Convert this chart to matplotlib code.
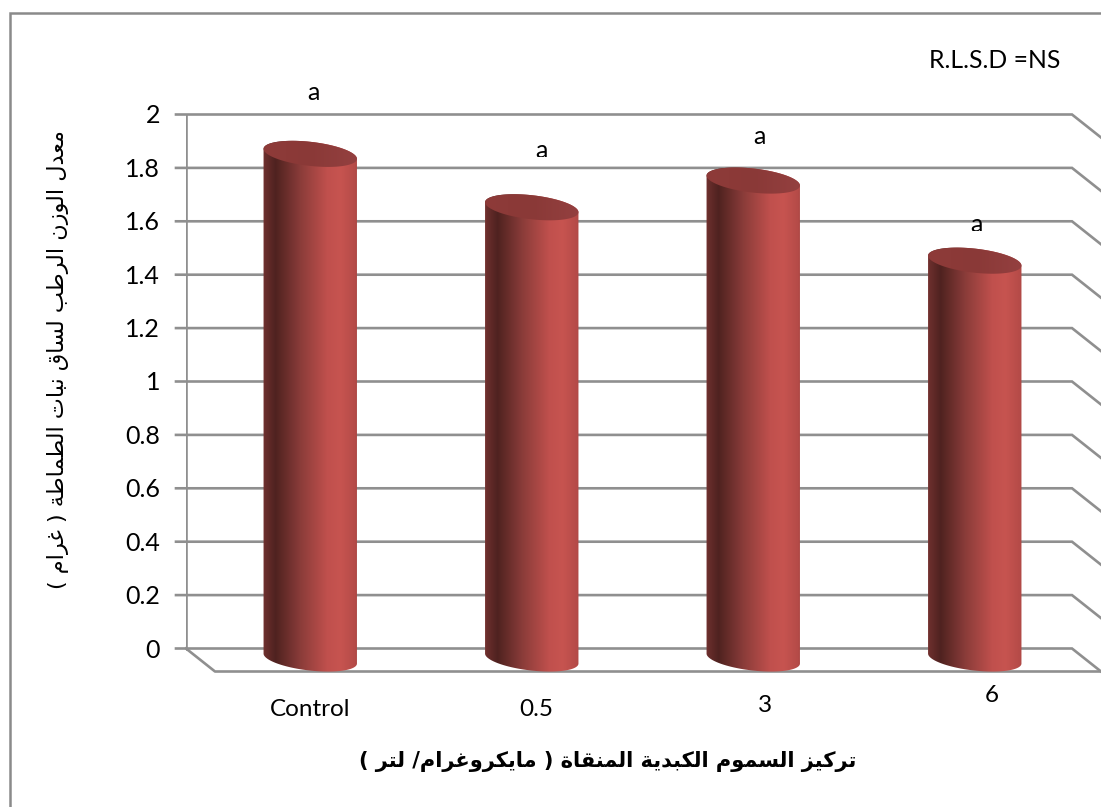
"""Tomato stem fresh weight chart, drawn as a 3D style cylinder plot."""

import matplotlib
matplotlib.use("Agg")
import matplotlib.pyplot as plt
import numpy as np
from matplotlib.colors import LinearSegmentedColormap
from matplotlib.lines import Line2D
from matplotlib.patches import Polygon, Rectangle

CATEGORIES = ["Control", "0.5", "3", "6"]
VALUES = [1.89, 1.69, 1.79, 1.49]
Y_TICKS = [0, 0.2, 0.4, 0.6, 0.8, 1, 1.2, 1.4, 1.6, 1.8, 2]
Y_TICK_LABELS = ["0", "0.2", "0.4", "0.6", "0.8", "1", "1.2", "1.4", "1.6", "1.8", "2"]
GROUP_LETTERS = ["a", "a", "a", "a"]
Y_TITLE = "معدل الوزن الرطب لساق نبات الطماطة ( غرام )"
X_TITLE = "تركيز السموم الكبدية المنقاة ( مايكروغرام/ لتر )"
NOTE = "R.L.S.D =NS"

W, H = 1101, 807
GRID = "#8f8f8f"

# isolated, final, initial, medial (two forms only = no join to the next letter)
FORMS = {
    "ا": (0xFE8D, 0xFE8E), "ب": (0xFE8F, 0xFE90, 0xFE91, 0xFE92),
    "ة": (0xFE93, 0xFE94), "ت": (0xFE95, 0xFE96, 0xFE97, 0xFE98),
    "د": (0xFEA9, 0xFEAA), "ر": (0xFEAD, 0xFEAE), "ز": (0xFEAF, 0xFEB0),
    "س": (0xFEB1, 0xFEB2, 0xFEB3, 0xFEB4), "ط": (0xFEC1, 0xFEC2, 0xFEC3, 0xFEC4),
    "ع": (0xFEC9, 0xFECA, 0xFECB, 0xFECC), "غ": (0xFECD, 0xFECE, 0xFECF, 0xFED0),
    "ق": (0xFED5, 0xFED6, 0xFED7, 0xFED8), "ك": (0xFED9, 0xFEDA, 0xFEDB, 0xFEDC),
    "ل": (0xFEDD, 0xFEDE, 0xFEDF, 0xFEE0), "م": (0xFEE1, 0xFEE2, 0xFEE3, 0xFEE4),
    "ن": (0xFEE5, 0xFEE6, 0xFEE7, 0xFEE8), "و": (0xFEED, 0xFEEE),
    "ي": (0xFEF1, 0xFEF2, 0xFEF3, 0xFEF4),
}
MIRROR = {"(": ")", ")": "("}


def shape_arabic(text):
    """matplotlib has no shaping or bidi, so join the letters and reverse them."""
    out = []
    for i, ch in enumerate(text):
        forms = FORMS.get(ch)
        if forms is None:
            out.append(MIRROR.get(ch, ch))
            continue
        prev = FORMS.get(text[i - 1]) if i else None
        nxt = FORMS.get(text[i + 1]) if i + 1 < len(text) else None
        join_prev = prev is not None and len(prev) == 4
        join_next = nxt is not None and len(forms) == 4
        if join_prev and join_next:
            code = forms[3]
        elif join_next:
            code = forms[2]
        elif join_prev:
            code = forms[1]
        else:
            code = forms[0]
        out.append(chr(code))
    return "".join(reversed(out))


px_x = 4 / 886
px_y = 2 / 534
depth_x = 29 * px_x
depth_y = 23 * px_y
y_floor = -36 * px_y  # room under zero for the cylinder bases

fig = plt.figure(figsize=(W / 100, H / 100), dpi=100, facecolor="white")
# back wall of the 3D box, the axes reach down far enough to hold the bases
ax = fig.add_axes([186 / W, 1 - 684.5 / H, 886 / W, 570 / H])
ax.axis("off")

# walls, floor and gridlines
for y, label in zip(Y_TICKS, Y_TICK_LABELS):
    ax.plot([-10 * px_x, 4, 4 + depth_x], [y, y, y - depth_y], color=GRID, lw=1.9,
            clip_on=False, solid_joinstyle="miter", zorder=1)
    ax.text(-26 * px_x, y - 1.5 * px_y, label, ha="right", va="center", fontsize=18,
            family="Lato", color="black")
ax.plot([0, 0], [0, 2], color=GRID, lw=1.9, zorder=1)
ax.plot([0, depth_x, 4 + depth_x], [0, -depth_y, -depth_y], color=GRID, lw=1.9, clip_on=False, zorder=1)

side_cmap = LinearSegmentedColormap.from_list(
    "side",
    [(0, "#7d3634"), (0.03, "#6a2e2c"), (0.14, "#4f2220"), (0.4, "#8a3c39"),
     (0.68, "#c0504d"), (0.82, "#c75450"), (0.97, "#b54b48"), (1, "#a84542")],
)
top_cmap = LinearSegmentedColormap.from_list("top", ["#8e3b39", "#8a3937", "#944040"])
gradient = np.linspace(0, 1, 256).reshape(1, -1)


def ellipse_points(cx, cy, start, stop, a=47, b=12, tilt=6.5):
    t = np.radians(np.linspace(start, stop, 80))
    ex = a * np.cos(t)
    ey = b * np.sin(t)
    rot = np.radians(tilt)
    # pixel offsets, y upward, tilted down to the right
    dx = ex * np.cos(rot) + ey * np.sin(rot)
    dy = -ex * np.sin(rot) + ey * np.cos(rot)
    return np.column_stack([cx + dx * px_x, cy + dy * px_y])


for i, value in enumerate(VALUES):
    cx = i + 0.5 + 13.5 * px_x
    base = -10 * px_y
    top = value + base

    body = np.vstack([ellipse_points(cx, base, 180, 360), ellipse_points(cx, top, 0, 180)])
    extent = (cx - 48 * px_x, cx + 48 * px_x, base - 20 * px_y, top + 20 * px_y)
    img = ax.imshow(gradient, cmap=side_cmap, extent=extent, aspect="auto", zorder=3)
    clip = Polygon(body, closed=True, transform=ax.transData, fc="none", ec="none")
    ax.add_patch(clip)
    img.set_clip_path(clip)

    lid = Polygon(ellipse_points(cx, top, 0, 360), closed=True, fc="none", ec="none")
    ax.add_patch(lid)
    lid_img = ax.imshow(gradient, cmap=top_cmap, extent=extent, aspect="auto", zorder=4)
    lid_img.set_clip_path(lid)

ax.set_xlim(0, 4)
ax.set_ylim(y_floor, 2)

# the group letters are cut off at the bottom in the source picture
LETTER_X = [313, 541, 759, 976]
LETTER_Y = [93, 150, 137, 224]
for x, y, letter in zip(LETTER_X, LETTER_Y, GROUP_LETTERS):
    t = fig.text(x / W, 1 - y / H, letter, ha="center", va="center", fontsize=18, family="Lato")
    t.set_clip_path(Rectangle((x - 20, H - y - 7), 40, 30, transform=None))
    t.set_clip_on(True)

LABEL_X = [310, 536, 765, 992]
LABEL_Y = [710, 709, 706, 696]
for x, y, label in zip(LABEL_X, LABEL_Y, CATEGORIES):
    fig.text(x / W, 1 - y / H, label, ha="center", va="center", fontsize=17.5, family="Lato")

fig.text(995 / W, 1 - 60 / H, NOTE, ha="center", va="center", fontsize=17.8, family="Lato")
fig.text(58 / W, 1 - 360 / H, shape_arabic(Y_TITLE), rotation=90, ha="center", va="center",
         fontsize=16.1, family="DejaVu Sans")
fig.text(608 / W, 1 - 761 / H, shape_arabic(X_TITLE), ha="center", va="center",
         fontsize=15.1, fontweight="bold", family="DejaVu Sans")

# chart frame, only the top and left edges fall inside the crop
fig.add_artist(Line2D([10 / W, 10 / W, 1], [0, 1 - 13 / H, 1 - 13 / H], color="#8a8a8a", lw=1.8,
                      solid_joinstyle="miter"))

fig.savefig("out.png", dpi=100)
